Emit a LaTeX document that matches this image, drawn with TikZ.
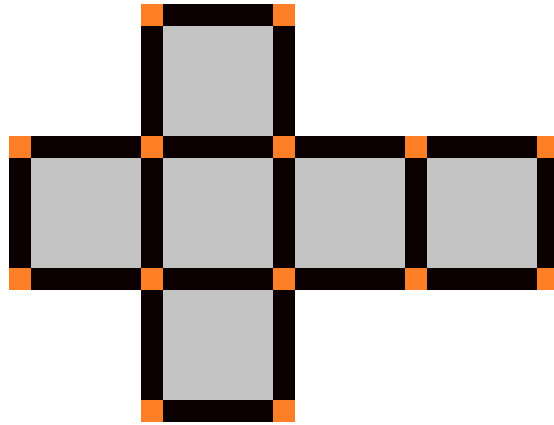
\documentclass[tikz,border=0pt]{standalone}
\definecolor{band}{HTML}{0A0000}
\definecolor{face}{HTML}{C3C3C3}
\definecolor{corner}{HTML}{FF7F27}
\tikzset{
  bandfill/.style={fill=band},
  facefill/.style={fill=face},
  cornerfill/.style={fill=corner},
}
\newcommand{\cubeface}[2]{% #1 = column, #2 = row (pixel grid, y down)
  \pgfmathsetmacro{\fx}{9+132*#1}
  \pgfmathsetmacro{\fy}{425-(4+132*#2)}
  \fill[bandfill] (\fx,\fy) rectangle ++(154,-154);
  \fill[facefill] (\fx+22,\fy-22) rectangle ++(110,-110);
  \foreach \dx in {0,132}{\foreach \dy in {0,132}{
    \fill[cornerfill] (\fx+\dx,\fy-\dy) rectangle ++(22,-22);
  }}
}
\begin{document}
\begin{tikzpicture}[x=1pt,y=1pt]
\useasboundingbox (0,0) rectangle (554,425);
\clip (0,0) rectangle (554,425);
\fill[white] (0,0) rectangle (554,425);
\cubeface{1}{0}
\cubeface{0}{1}
\cubeface{1}{1}
\cubeface{2}{1}
\cubeface{3}{1}
\cubeface{1}{2}
\end{tikzpicture}
\end{document}
